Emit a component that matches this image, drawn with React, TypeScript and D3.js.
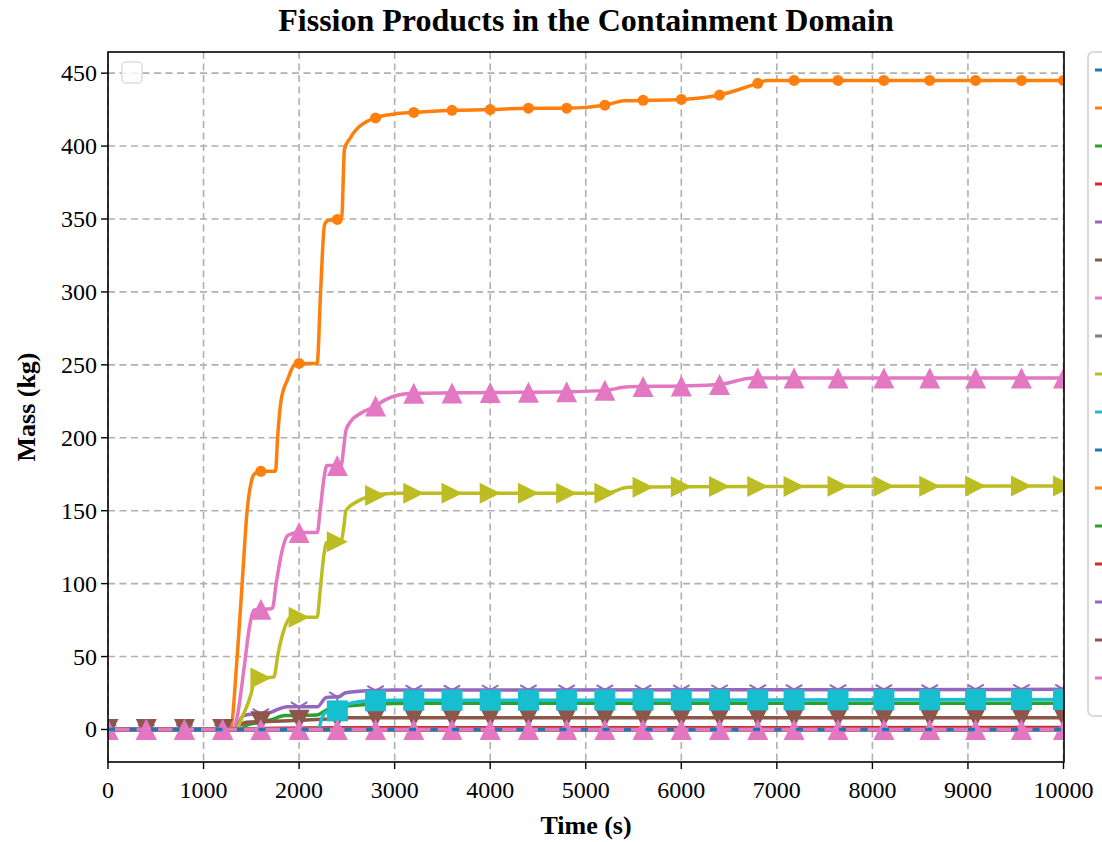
import * as d3 from 'd3';

const WIDTH = 1102;
const HEIGHT = 842;
const MARGIN = { top: 52, right: 38, bottom: 80, left: 108 };

const X_TICKS = [0, 1000, 2000, 3000, 4000, 5000, 6000, 7000, 8000, 9000, 10000];
const Y_TICKS = [0, 50, 100, 150, 200, 250, 300, 350, 400, 450];

// times at which matplotlib put the markers
const MARK_TIMES = [0, 400, 800, 1200, 1600, 2000, 2400, 2800, 3200, 3600, 4000, 4400, 4800, 5200, 5600, 6000, 6400, 6800, 7180, 7640, 8120, 8600, 9080, 9560, 10000];

const ZERO_T = [0, 10000];
const ZERO_V = [0, 0];

const ORANGE_T = [0, 1200, 1282, 1352, 1404, 1456, 1500, 1530, 1589, 1753, 1775, 1810, 1880, 1950, 1990, 2189, 2225, 2266, 2300, 2445, 2475, 2530, 2780, 3000, 3190, 3600, 4000, 4400, 4800, 5200, 5400, 6000, 6400, 6800, 6900, 10000];
const ORANGE_V = [0, 0, 1, 50, 100, 150, 170, 175, 177, 177, 200, 225, 240, 250, 251, 251, 300, 346, 349, 350, 398, 405, 419, 422, 423, 424.5, 425, 426, 426, 428, 431, 432, 435, 443, 445, 445];

const PINK_T = [0, 1300, 1350, 1420, 1480, 1530, 1720, 1760, 1820, 1880, 1990, 2190, 2220, 2260, 2290, 2440, 2470, 2490, 2550, 2650, 2780, 2900, 3050, 3200, 4000, 4800, 5200, 5450, 6000, 6400, 6750, 10000];
const PINK_V = [0, 0, 8, 40, 70, 82, 83, 100, 122, 133, 135, 135, 150, 172, 181, 181, 195, 205, 212, 217, 221, 226, 229.5, 230.5, 231, 231.5, 232.5, 235, 235.5, 236.5, 241, 241];

const OLIVE_T = [0, 1340, 1400, 1500, 1535, 1736, 1780, 1850, 1910, 2189, 2220, 2260, 2285, 2440, 2470, 2490, 2600, 2750, 3000, 5200, 5450, 6000, 10000];
const OLIVE_V = [0, 0, 8, 25, 35, 36, 52, 70, 77, 77, 95, 120, 128, 129, 140, 150, 156, 160, 162, 162, 166, 166.5, 167];

const PURPLE_T = [0, 1300, 1350, 1420, 1500, 1670, 1750, 1875, 2190, 2285, 2420, 2480, 2700, 3000, 10000];
const PURPLE_V = [0, 0, 3, 9.6, 10.5, 11, 13, 15.5, 15.5, 22, 22.5, 25, 26.5, 27, 27.5];

const CYAN_T = [0, 2200, 2240, 2285, 2440, 2500, 2700, 3000, 10000];
const CYAN_V = [0, 0, 8, 12, 13, 17, 19.5, 20, 20.5];

const GREEN_T = [0, 1380, 1450, 1600, 1700, 1850, 2190, 2290, 2500, 2800, 3200, 10000];
const GREEN_V = [0, 0, 3, 5, 6.5, 9.5, 10, 13.5, 16, 17.5, 18, 18];

const BROWN_T = [0, 1300, 1380, 1450, 1900, 2250, 2500, 10000];
const BROWN_V = [0, 0, 3, 5, 6, 7, 8, 8];

const RED_T = [0, 1400, 1600, 2500, 10000];
const RED_V = [0, 0, 0.6, 1.2, 1.3];

const COLORS = ['#1f77b4', '#ff7f0e', '#2ca02c', '#d62728', '#9467bd', '#8c564b', '#e377c2', '#7f7f7f', '#bcbd22', '#17becf'];

type Marker = 'none' | 'o' | '^' | 'v' | '>' | 's' | '1';

type Series = { t: number[]; v: number[]; marker: Marker; markFrom?: number; dash?: string };

const SERIES: Series[] = [
  { t: ZERO_T, v: ZERO_V, marker: 'none' },
  { t: ORANGE_T, v: ORANGE_V, marker: 'o', markFrom: 1600 },
  { t: GREEN_T, v: GREEN_V, marker: 'none' },
  { t: RED_T, v: RED_V, marker: 'none' },
  { t: PURPLE_T, v: PURPLE_V, marker: '1' },
  { t: BROWN_T, v: BROWN_V, marker: 'v' },
  { t: PINK_T, v: PINK_V, marker: '^' },
  { t: ZERO_T, v: ZERO_V, marker: 'none' },
  { t: OLIVE_T, v: OLIVE_V, marker: '>', markFrom: 1600 },
  { t: CYAN_T, v: CYAN_V, marker: 's', markFrom: 2400 },
  { t: ZERO_T, v: ZERO_V, marker: 'none', dash: '7 14.5' },
  { t: ZERO_T, v: ZERO_V, marker: 'none' },
  { t: ZERO_T, v: ZERO_V, marker: 'none' },
  { t: ZERO_T, v: ZERO_V, marker: 'none' },
  { t: ZERO_T, v: ZERO_V, marker: 'none' },
  { t: ZERO_T, v: ZERO_V, marker: 'none' },
  { t: ZERO_T, v: ZERO_V, marker: '^' },
];

const FONT = '"Liberation Serif", "Times New Roman", serif';

const markerShape = (m: Marker, color: string, key: string, x: number, y: number) => {
  const tr = `translate(${x},${y})`;
  if (m === 'o') return <circle key={key} cx={x} cy={y} r={5.5} fill={color} />;
  if (m === 's') return <rect key={key} x={x - 10.5} y={y - 10.5} width={21} height={21} fill={color} />;
  if (m === '1') {
    const h = 9.5;
    return (
      <path
        key={key}
        transform={tr}
        d={`M0,0L0,${h}M0,0L${-0.866 * h},${-0.5 * h}M0,0L${0.866 * h},${-0.5 * h}`}
        stroke={color}
        strokeWidth={2}
        fill="none"
      />
    );
  }
  const h = 10.5;
  let d = '';
  if (m === '^') d = `M0,${-h}L${h},${h}L${-h},${h}Z`;
  if (m === 'v') d = `M0,${h}L${h},${-h}L${-h},${-h}Z`;
  if (m === '>') d = `M${h},0L${-h},${-h}L${-h},${h}Z`;
  return <path key={key} transform={tr} d={d} fill={color} />;
};

const App = () => {
  const boundsWidth = WIDTH - MARGIN.left - MARGIN.right;
  const boundsHeight = HEIGHT - MARGIN.top - MARGIN.bottom;

  const xScale = d3.scaleLinear().domain([0, 10000]).range([0, boundsWidth - 0.5]);
  const yScale = d3.scaleLinear().domain([-22.3, 464.5]).range([boundsHeight, 0]);

  const grid = (
    <g stroke="#b0b0b0" strokeWidth={1.6} strokeDasharray="7 4.5">
      {X_TICKS.map((t) => (
        <line key={`gx${t}`} x1={xScale(t)} x2={xScale(t)} y1={0} y2={boundsHeight} />
      ))}
      {Y_TICKS.map((t) => (
        <line key={`gy${t}`} x1={0} x2={boundsWidth} y1={yScale(t)} y2={yScale(t)} />
      ))}
    </g>
  );

  // the dotted blue zero line sits on top of everything in the original
  const drawOrder = SERIES.map((_, i) => i).filter((i) => i !== 10).concat([10]);

  const shapes = drawOrder.map((i) => {
    const s = SERIES[i];
    const color = COLORS[i % 10];
    const pts = s.t.map((t, j) => [t, s.v[j]] as [number, number]);
    const line = d3
      .line<[number, number]>()
      .x((d) => xScale(d[0]))
      .y((d) => yScale(d[1]))
      .curve(d3.curveMonotoneX);
    const interp = d3.scaleLinear().domain(s.t).range(s.v);
    const marks = MARK_TIMES.filter((t) => t >= (s.markFrom ?? 0));
    return (
      <g key={`s${i}`}>
        <path
          d={line(pts) ?? ''}
          fill="none"
          stroke={color}
          strokeWidth={3.5}
          strokeDasharray={s.dash}
          strokeLinejoin="round"
        />
        {s.marker !== 'none' &&
          marks.map((t) => markerShape(s.marker, color, `m${i}-${t}`, xScale(t), yScale(interp(t))))}
      </g>
    );
  });

  const legendY0 = 70 - MARGIN.top;
  const legendStep = 38.0;

  return (
    <svg
      width={WIDTH}
      height={HEIGHT}
      style={{ position: 'absolute', left: 0, top: 0, background: '#fff' }}
      fontFamily={FONT}
    >
      <text x={586} y={31} textAnchor="middle" fontSize={32} fontWeight="bold">
        Fission Products in the Containment Domain
      </text>
      <g transform={`translate(${MARGIN.left},${MARGIN.top})`}>
        <defs>
          <clipPath id="plot-clip">
            <rect x={0} y={0} width={boundsWidth} height={boundsHeight} />
          </clipPath>
        </defs>
        {grid}
        <g clipPath="url(#plot-clip)">{shapes}</g>
        <rect x={0} y={0} width={boundsWidth} height={boundsHeight} fill="none" stroke="#000" strokeWidth={1.6} />

        {/* empty legend box in the upper left */}
        <rect x={14} y={10} width={20} height={21} rx={4} fill="#fff" fillOpacity={0.8} stroke="#dddddd" strokeWidth={1.5} />

        {X_TICKS.map((t) => (
          <g key={`xt${t}`}>
            <line x1={xScale(t)} x2={xScale(t)} y1={boundsHeight} y2={boundsHeight + 7} stroke="#000" strokeWidth={1.4} />
            <text x={xScale(t)} y={boundsHeight + 36} textAnchor="middle" fontSize={24}>
              {t}
            </text>
          </g>
        ))}
        {Y_TICKS.map((t) => (
          <g key={`yt${t}`}>
            <line x1={-7} x2={0} y1={yScale(t)} y2={yScale(t)} stroke="#000" strokeWidth={1.4} />
            <text x={-11} y={yScale(t)} textAnchor="end" dominantBaseline="central" fontSize={24}>
              {t}
            </text>
          </g>
        ))}
        <text x={boundsWidth / 2} y={boundsHeight + 72} textAnchor="middle" fontSize={26} fontWeight="bold">
          Time (s)
        </text>
        <text
          transform={`translate(${-82},${boundsHeight / 2}) rotate(-90)`}
          textAnchor="middle"
          dominantBaseline="central"
          fontSize={26}
          fontWeight="bold"
        >
          Mass (kg)
        </text>

        {/* right legend, cut by the page edge */}
        <rect
          x={boundsWidth + 24}
          y={0}
          width={60}
          height={664}
          rx={5}
          fill="#fff"
          stroke="#d0d0d0"
          strokeWidth={1.5}
        />
        {SERIES.map((_, i) => (
          <line
            key={`lg${i}`}
            x1={boundsWidth + 31}
            x2={boundsWidth + 60}
            y1={legendY0 + i * legendStep}
            y2={legendY0 + i * legendStep}
            stroke={COLORS[i % 10]}
            strokeWidth={3}
          />
        ))}
      </g>
    </svg>
  );
};

export default App;
